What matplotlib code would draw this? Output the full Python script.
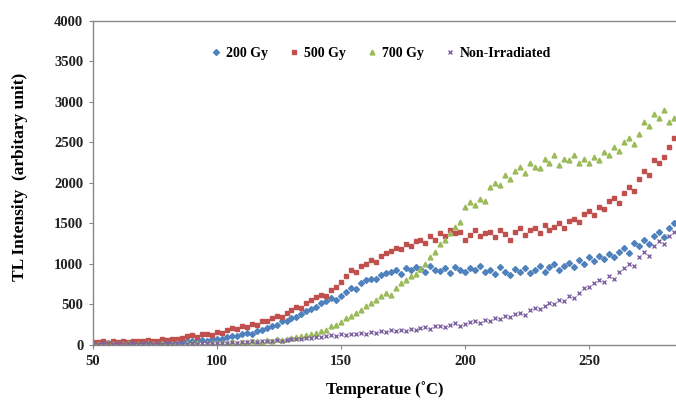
import matplotlib
matplotlib.use("Agg")
import matplotlib.pyplot as plt

plt.rcParams['font.family'] = ['Liberation Serif', 'DejaVu Serif']
plt.rcParams['font.weight'] = 'bold'

# temperature (°C)
temps = [50, 52, 54, 56, 58, 60, 62, 64, 66, 68, 70, 72, 74, 76, 78, 80, 82, 84, 86, 88,
         90, 92, 94, 96, 98, 100, 102, 104, 106, 108, 110, 112, 114, 116, 118, 120, 122, 124, 126, 128,
         130, 132, 134, 136, 138, 140, 142, 144, 146, 148, 150, 152, 154, 156, 158, 160, 162, 164, 166, 168,
         170, 172, 174, 176, 178, 180, 182, 184, 186, 188, 190, 192, 194, 196, 198, 200, 202, 204, 206, 208,
         210, 212, 214, 216, 218, 220, 222, 224, 226, 228, 230, 232, 234, 236, 238, 240, 242, 244, 246, 248,
         250, 252, 254, 256, 258, 260, 262, 264, 266, 268, 270, 272, 274, 276, 278, 280, 282, 284]

gy200 = [30, 25, 35, 20, 30, 25, 20, 30, 25, 35, 20, 30, 25, 35, 30, 25, 40, 30, 35, 45,
         50, 45, 60, 55, 70, 80, 75, 95, 110, 105, 130, 150, 140, 175, 190, 210, 230, 250, 290, 300,
         330, 350, 380, 420, 440, 470, 520, 540, 580, 560, 610, 650, 700, 690, 760, 800, 820, 810, 870, 890,
         900, 930, 880, 950, 920, 960, 940, 900, 970, 930, 910, 950, 890, 960, 930, 900, 950, 920, 970, 900,
         930, 880, 960, 900, 870, 940, 900, 950, 890, 920, 980, 900, 960, 1000, 930, 980, 1010, 960, 1050, 1000,
         1080, 1040, 1100, 1060, 1120, 1090, 1150, 1200, 1130, 1260, 1220, 1300, 1250, 1350, 1400, 1330, 1450, 1500]

gy500 = [40, 35, 45, 30, 50, 40, 45, 35, 55, 45, 50, 60, 45, 55, 70, 60, 80, 75, 90, 110,
         120, 100, 130, 140, 120, 160, 150, 180, 210, 200, 230, 220, 260, 250, 300, 290, 330, 360, 350, 400,
         430, 470, 460, 520, 560, 590, 620, 600, 680, 720, 780, 850, 930, 900, 980, 1000, 1050, 1020, 1100, 1140,
         1160, 1200, 1180, 1250, 1220, 1280, 1300, 1260, 1340, 1300, 1380, 1350, 1420, 1380, 1400, 1300, 1360, 1420, 1340, 1380,
         1400, 1330, 1420, 1370, 1300, 1400, 1440, 1360, 1420, 1450, 1380, 1480, 1420, 1460, 1500, 1440, 1530, 1560, 1520, 1620,
         1650, 1600, 1700, 1680, 1780, 1820, 1750, 1880, 1950, 1900, 2050, 2150, 2100, 2280, 2250, 2320, 2450, 2550]

gy700 = [10, 15, 5, 20, 10, 15, 10, 20, 5, 15, 10, 20, 15, 10, 20, 15, 10, 25, 15, 20,
         20, 25, 15, 30, 20, 25, 30, 20, 35, 30, 40, 35, 45, 50, 40, 60, 55, 70, 65, 80,
         90, 100, 110, 120, 140, 150, 170, 190, 230, 250, 280, 330, 360, 400, 430, 480, 520, 560, 600, 640,
         620, 700, 760, 800, 850, 880, 940, 1000, 1080, 1150, 1250, 1300, 1380, 1460, 1520, 1700, 1760, 1730, 1800, 1780,
         1950, 2000, 1980, 2100, 2050, 2150, 2200, 2120, 2250, 2200, 2180, 2300, 2250, 2350, 2220, 2300, 2280, 2350, 2250, 2300,
         2250, 2320, 2280, 2380, 2350, 2450, 2400, 2500, 2550, 2480, 2600, 2750, 2700, 2850, 2800, 2900, 2750, 2800]

non_irr = [20, 15, 25, 20, 15, 20, 10, 25, 20, 15, 20, 25, 15, 20, 10, 20, 15, 25, 20, 15,
           20, 15, 25, 20, 30, 25, 20, 30, 35, 30, 40, 35, 45, 40, 50, 45, 55, 60, 50, 65,
           70, 80, 75, 90, 85, 100, 95, 110, 120, 110, 130, 125, 140, 130, 150, 140, 160, 145, 170, 160,
           180, 170, 190, 175, 200, 190, 210, 220, 200, 230, 240, 220, 250, 270, 240, 260, 280, 300, 270, 310,
           300, 330, 320, 360, 340, 380, 400, 370, 430, 460, 440, 480, 520, 500, 560, 540, 600, 580, 640, 700,
           720, 760, 800, 780, 850, 820, 900, 950, 1000, 980, 1080, 1150, 1100, 1220, 1280, 1250, 1350, 1400]

series = [
    ("200 Gy", gy200, "#4F81BD", "D", 3.0),
    ("500 Gy", gy500, "#C0504D", "s", 3.0),
    ("700 Gy", gy700, "#9BBB59", "^", 3.5),
    ("Non-Irradiated", non_irr, "#8064A2", "x", 3.5),
]

fig = plt.figure(figsize=(6.76, 4.01), dpi=100)
ax = fig.add_axes([0.1376, 0.1397, 0.8624, 0.808])

for name, vals, col, mk, ms in series:
    ax.plot(temps, vals, linestyle="none", marker=mk, color=col, markersize=ms,
            markeredgewidth=1.0, label=name)

ax.set_xlim(50, 285)
ax.set_ylim(0, 4000)
ax.set_xticks([50, 100, 150, 200, 250])
ax.set_yticks(range(0, 4001, 500))

for s in ["top", "left", "bottom"]:
    ax.spines[s].set_color("#868686")
    ax.spines[s].set_linewidth(1.0)
ax.spines["right"].set_visible(False)
ax.tick_params(direction="out", length=3, color="#868686", labelsize=10.5,
               labelcolor="#222222", pad=4)
for lab in ax.get_xticklabels() + ax.get_yticklabels():
    lab.set_fontweight("bold")

ax.set_xlabel("Temperatue (˚C)", fontsize=12, fontweight="bold", va="center")
ax.set_ylabel("TL Intensity  (arbitary unit)", fontsize=12.5, fontweight="bold", va="center")
ax.xaxis.set_label_coords(0.5, -0.139)
ax.yaxis.set_label_coords(-0.125, 0.52)

ax.legend(loc="center", bbox_to_anchor=(0.494, 0.90), ncol=4, frameon=False,
          handlelength=0.8, handletextpad=0.3, columnspacing=1.5,
          prop={"weight": "bold", "size": 10})

fig.savefig("out.png", dpi=100)
